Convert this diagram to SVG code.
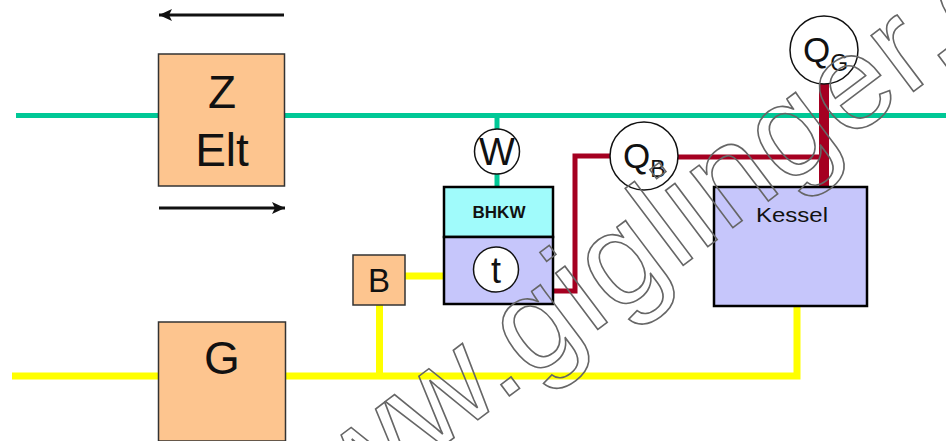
<svg xmlns="http://www.w3.org/2000/svg" width="946" height="441" viewBox="0 0 946 441">
<defs>
<style>
text{font-family:"Liberation Sans",Arial,sans-serif;fill:#111;text-anchor:middle}
.orange{fill:#fdc58f;stroke:#333;stroke-width:1.5}
.purple{fill:#c6c6fb;stroke:#000;stroke-width:2.5}
.meter{fill:#fff;stroke:#111;stroke-width:1.5}
.green{stroke:#00c896;stroke-width:5;fill:none}
.yellow{stroke:#ffff00;stroke-width:7;fill:none}
.red{stroke:#a50021;fill:none}
.arrow{stroke:#111;stroke-width:3;fill:none;marker-end:url(#head)}
.wm{fill:none;stroke:#666;stroke-width:1.6;font-size:133px;letter-spacing:1.5px;text-anchor:start}
</style>
<marker id="head" markerUnits="userSpaceOnUse" markerWidth="14" markerHeight="14" refX="13" refY="7" orient="auto"><path d="M0 1L13 7L0 13L3 7Z" fill="#111"/></marker>
</defs>
<rect width="946" height="441" fill="#fff"/>
<g id="connectors">
<path class="green" d="M16 115.500H946"/>
<path class="green" d="M497 115V186"/>
<path class="yellow" d="M12 376H797V307"/>
<path class="yellow" d="M379.500 305V376"/>
<path class="yellow" d="M405 276H444"/>
<path class="red" stroke-width="5" d="M553 291H575V156H615"/>
<path class="red" stroke-width="5" d="M677 157H824"/>
<path class="red" stroke-width="10" d="M824 84V186"/>
<path class="arrow" d="M284 15H159"/>
<path class="arrow" d="M159 208H285"/>
</g>
<g id="node-z-elt"><rect class="orange" x="158.500" y="54" width="126" height="132"/><text x="222" y="108" font-size="46">Z</text><text x="222" y="166" font-size="46">Elt</text></g>
<g id="node-g"><rect class="orange" x="158.500" y="322" width="127" height="119"/><text x="222" y="374" font-size="46">G</text></g>
<g id="node-b"><rect class="orange" x="353" y="255" width="52" height="50"/><text x="379" y="292" font-size="33">B</text></g>
<g id="node-bhkw"><rect x="444" y="187" width="109" height="50" fill="#a0fbfb" stroke="#000" stroke-width="2.500"/><text x="499" y="218" font-size="17" font-weight="bold">BHKW</text><rect class="purple" x="444" y="237" width="109" height="67"/></g>
<g id="node-t"><circle class="meter" cx="496" cy="269.500" r="22.500"/><text x="496" y="283" font-size="36">t</text></g>
<g id="node-w"><circle class="meter" cx="497" cy="151.500" r="22.500"/><text x="497" y="165" font-size="38">W</text></g>
<g id="node-qb"><circle class="meter" cx="644" cy="156" r="34"/><text x="623" y="168" font-size="35" style="text-anchor:start">Q<tspan font-size="23" dy="9">B</tspan></text></g>
<g id="node-qg"><circle class="meter" cx="824" cy="50" r="34"/><text x="803" y="62" font-size="35" style="text-anchor:start">Q<tspan font-size="23" dy="9">G</tspan></text></g>
<g id="node-kessel"><rect class="purple" x="714" y="187" width="153" height="119"/><text x="792" y="222" font-size="21" textLength="72" lengthAdjust="spacingAndGlyphs">Kessel</text></g>
<text class="wm" transform="translate(272 575) rotate(-37)">www.giglinger.de</text>
</svg>
